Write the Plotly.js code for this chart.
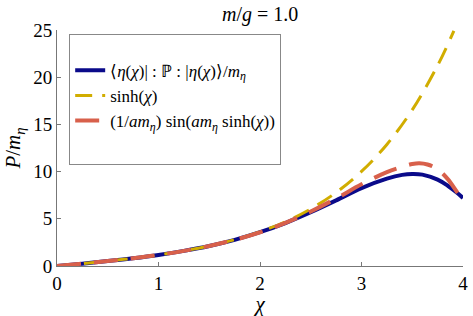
<!DOCTYPE html>
<html>
<head>
<meta charset="utf-8">
<script src="https://cdn.plot.ly/plotly-3.0.1.min.js"></script>
<style>
html,body{margin:0;padding:0;background:#fff}
#chart{width:473px;height:316px}
</style>
</head>
<body>
<div id="chart"></div>
<script>
// χ values and curves
const chiBlue = [0, 0.25, 0.5, 0.75, 1, 1.25, 1.5, 1.75, 2, 2.25, 2.5, 2.75, 3, 3.25, 3.4, 3.5, 3.6, 3.75, 3.85, 3.95, 4];
const quantumP = [0, 0.25, 0.52, 0.82, 1.17, 1.6, 2.12, 2.77, 3.58, 4.55, 5.7, 6.95, 8.25, 9.25, 9.65, 9.75, 9.68, 9.15, 8.5, 7.68, 7.2];

const chiSinh = [0, 0.25, 0.5, 0.75, 1, 1.25, 1.5, 1.75, 2, 2.25, 2.5, 2.75, 3, 3.25, 3.5, 3.75, 3.91];
const sinhVals = [0, 0.253, 0.521, 0.822, 1.175, 1.602, 2.129, 2.79, 3.627, 4.691, 6.05, 7.789, 10.018, 12.876, 16.543, 21.249, 24.9];

const chiRed = [0, 0.25, 0.5, 0.75, 1, 1.25, 1.5, 1.75, 2, 2.25, 2.5, 2.75, 3, 3.25, 3.4, 3.5, 3.57, 3.65, 3.75, 3.85, 3.95, 4];
const semiClassical = [0, 0.25, 0.52, 0.82, 1.17, 1.6, 2.12, 2.77, 3.57, 4.57, 5.78, 7.15, 8.65, 9.95, 10.5, 10.8, 10.88, 10.75, 10.25, 9.2, 7.7, 7.0];

const xTicks = [0, 1, 2, 3, 4];
const yTicks = [0, 5, 10, 15, 20, 25];

const FF = "Liberation Serif";

const traces = [
  {x: chiBlue, y: quantumP, mode: "lines", line: {color: "#0a0a8a", width: 4, shape: "spline"},
   name: "⟨<i>η</i>(<i>χ</i>)| : ℙ : |<i>η</i>(<i>χ</i>)⟩/<i>m<sub>η</sub></i>", legendgroup: "a"},
  {x: chiSinh, y: sinhVals, mode: "lines", line: {color: "#d1ad00", width: 3, dash: "17px,10px", shape: "spline"},
   name: "sinh(<i>χ</i>)", legendgroup: "b"},
  {x: chiRed, y: semiClassical, mode: "lines", line: {color: "#d8604b", width: 4, dash: "24px,13px", shape: "spline"},
   name: "(1/<i>am<sub>η</sub></i>) sin(<i>am<sub>η</sub></i> sinh(<i>χ</i>))", legendgroup: "c"},
  {x: [0], y: [0], mode: "lines", line: {color: "rgba(0,0,0,0)", width: 0}, hoverinfo: "skip",
   name: "&nbsp;", legendgroup: "d"}
];

const layout = {
  width: 473, height: 316,
  margin: {l: 57, r: 10, t: 30, b: 50},
  paper_bgcolor: "#fff", plot_bgcolor: "#fff",
  font: {family: FF, size: 18, color: "#000"},
  title: {text: "<i>m</i>/<i>g</i> = 1.0", x: 0.55, xanchor: "center", y: 0.955, yanchor: "middle",
          font: {family: FF, size: 20, color: "#000"}},
  xaxis: {range: [0, 4], tickvals: xTicks, ticktext: xTicks.map(String), ticks: "inside", ticklen: 4, tickcolor: "#777",
          showline: true, linecolor: "#777", linewidth: 1, showgrid: false, zeroline: false, mirror: false,
          tickfont: {family: FF, size: 19, color: "#000"},
          title: {text: "<i>χ</i>", standoff: 0, font: {family: FF, size: 21, color: "#000"}}},
  yaxis: {range: [0, 25], tickvals: yTicks, ticktext: yTicks.map(String), ticks: "inside", ticklen: 4, tickcolor: "#777",
          showline: true, linecolor: "#777", linewidth: 1, showgrid: false, zeroline: false, mirror: false,
          tickfont: {family: FF, size: 19, color: "#000"},
          title: {text: "<i>P</i>/<i>m<sub>η</sub></i>", standoff: 6, font: {family: FF, size: 21, color: "#000"}}},
  showlegend: true,
  legend: {x: 0.03, y: 0.985, xanchor: "left", yanchor: "top", bgcolor: "#fff", bordercolor: "#888", borderwidth: 1,
           font: {family: FF, size: 17, color: "#000"}, itemwidth: 30, tracegroupgap: 9, traceorder: "normal",
           title: {text: "&nbsp;", font: {family: FF, size: 14}}}
};

Plotly.newPlot("chart", traces, layout, {displayModeBar: false, staticPlot: true});
</script>
</body>
</html>
